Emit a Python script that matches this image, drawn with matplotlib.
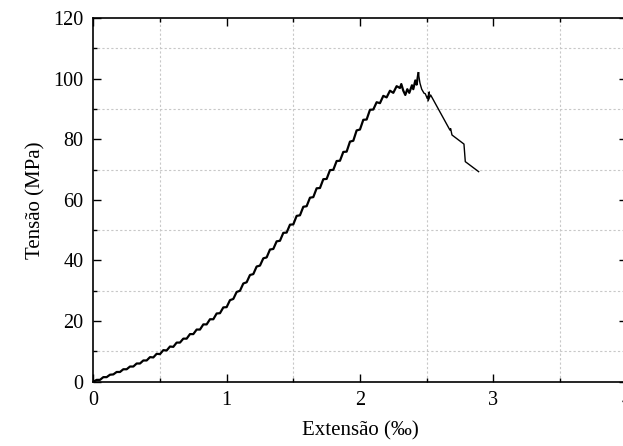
import matplotlib
matplotlib.use("Agg")
import matplotlib.pyplot as plt
from matplotlib.ticker import MultipleLocator

# strain (per mil) and stress (MPa)
# rising (noisy) branch up to the peak
strain_up = [
    0.000, 0.025, 0.050, 0.075, 0.100, 0.125, 0.150, 0.175, 0.200, 0.225,
    0.250, 0.275, 0.300, 0.325, 0.350, 0.375, 0.400, 0.425, 0.450, 0.475,
    0.500, 0.525, 0.550, 0.575, 0.600, 0.625, 0.650, 0.675, 0.700, 0.725,
    0.750, 0.775, 0.800, 0.825, 0.850, 0.875, 0.900, 0.925, 0.950, 0.975,
    1.000, 1.025, 1.050, 1.075, 1.100, 1.125, 1.150, 1.175, 1.200, 1.225,
    1.250, 1.275, 1.300, 1.325, 1.350, 1.375, 1.400, 1.425, 1.450, 1.475,
    1.500, 1.525, 1.550, 1.575, 1.600, 1.625, 1.650, 1.675, 1.700, 1.725,
    1.750, 1.775, 1.800, 1.825, 1.850, 1.875, 1.900, 1.925, 1.950, 1.975,
    2.000, 2.025, 2.050, 2.075, 2.100, 2.125, 2.150, 2.175, 2.200, 2.225,
    2.250, 2.275, 2.300, 2.310, 2.325, 2.340, 2.355, 2.370, 2.390, 2.400,
    2.415, 2.425, 2.438,
]
stress_up = [
    0.0, 0.6, 0.6, 1.5, 1.5, 2.3, 2.4, 3.2, 3.2, 4.1,
    4.1, 5.0, 5.0, 6.0, 6.0, 7.0, 7.0, 8.1, 8.0, 9.2,
    9.1, 10.4, 10.3, 11.6, 11.5, 12.9, 12.9, 14.2, 14.2, 15.7,
    15.7, 17.2, 17.2, 18.9, 18.9, 20.6, 20.6, 22.5, 22.6, 24.5,
    24.6, 26.9, 27.3, 29.6, 30.0, 32.4, 32.8, 35.2, 35.5, 38.0,
    38.3, 40.7, 41.0, 43.6, 43.8, 46.3, 46.5, 49.1, 49.2, 51.8,
    51.9, 54.7, 54.9, 57.7, 57.9, 60.7, 60.9, 63.8, 63.9, 66.8,
    66.9, 69.8, 69.9, 72.8, 72.9, 75.8, 75.9, 79.2, 79.5, 82.9,
    83.2, 86.4, 86.5, 89.7, 89.8, 92.2, 91.9, 94.3, 93.8, 96.0,
    95.3, 97.5, 96.9, 98.2, 96.0, 94.6, 96.5, 95.3, 97.8, 96.5,
    99.4, 98.0, 101.8,
]
# post-peak branch
strain_down = [2.438, 2.450, 2.463, 2.480, 2.490, 2.505, 2.520, 2.510, 2.530,
               2.550, 2.675, 2.680, 2.690, 2.780, 2.790, 2.890]
stress_down = [101.8, 98.5, 96.5, 95.2, 95.0, 93.4, 95.6, 92.6, 94.6,
               93.0, 83.0, 83.5, 81.4, 78.4, 72.6, 69.3]

plt.rcParams["font.family"] = ["Liberation Serif", "DejaVu Serif"]

fig = plt.figure(figsize=(6.23, 4.46), dpi=100)
ax = fig.add_axes([0.1498, 0.1442, 0.856, 0.8155])

ax.plot(strain_up, stress_up, color="black", lw=1.6)
ax.plot(strain_down, stress_down, color="black", lw=1.0)

ax.set_xlim(0, 4)
ax.set_ylim(0, 120)
ax.xaxis.set_major_locator(MultipleLocator(1))
ax.xaxis.set_minor_locator(MultipleLocator(0.5))
ax.yaxis.set_major_locator(MultipleLocator(20))
ax.yaxis.set_minor_locator(MultipleLocator(10))

ax.grid(which="minor", color="#c8c8c8", ls=(0, (2, 2)), lw=0.8)
ax.grid(which="major", visible=False)

ax.tick_params(which="both", direction="in", top=True, right=True,
               labelsize=14.5, width=1.0)
ax.tick_params(which="major", length=6)
ax.tick_params(which="minor", length=3)
ax.tick_params(axis="x", pad=7)
ax.tick_params(axis="y", pad=7)
for s in ax.spines.values():
    s.set_linewidth(1.2)

ax.set_xlabel("Extensão (‰)", fontsize=15, labelpad=8)
ax.set_ylabel("Tensão (MPa)", fontsize=15, labelpad=6)

fig.savefig("out.png", dpi=100)
